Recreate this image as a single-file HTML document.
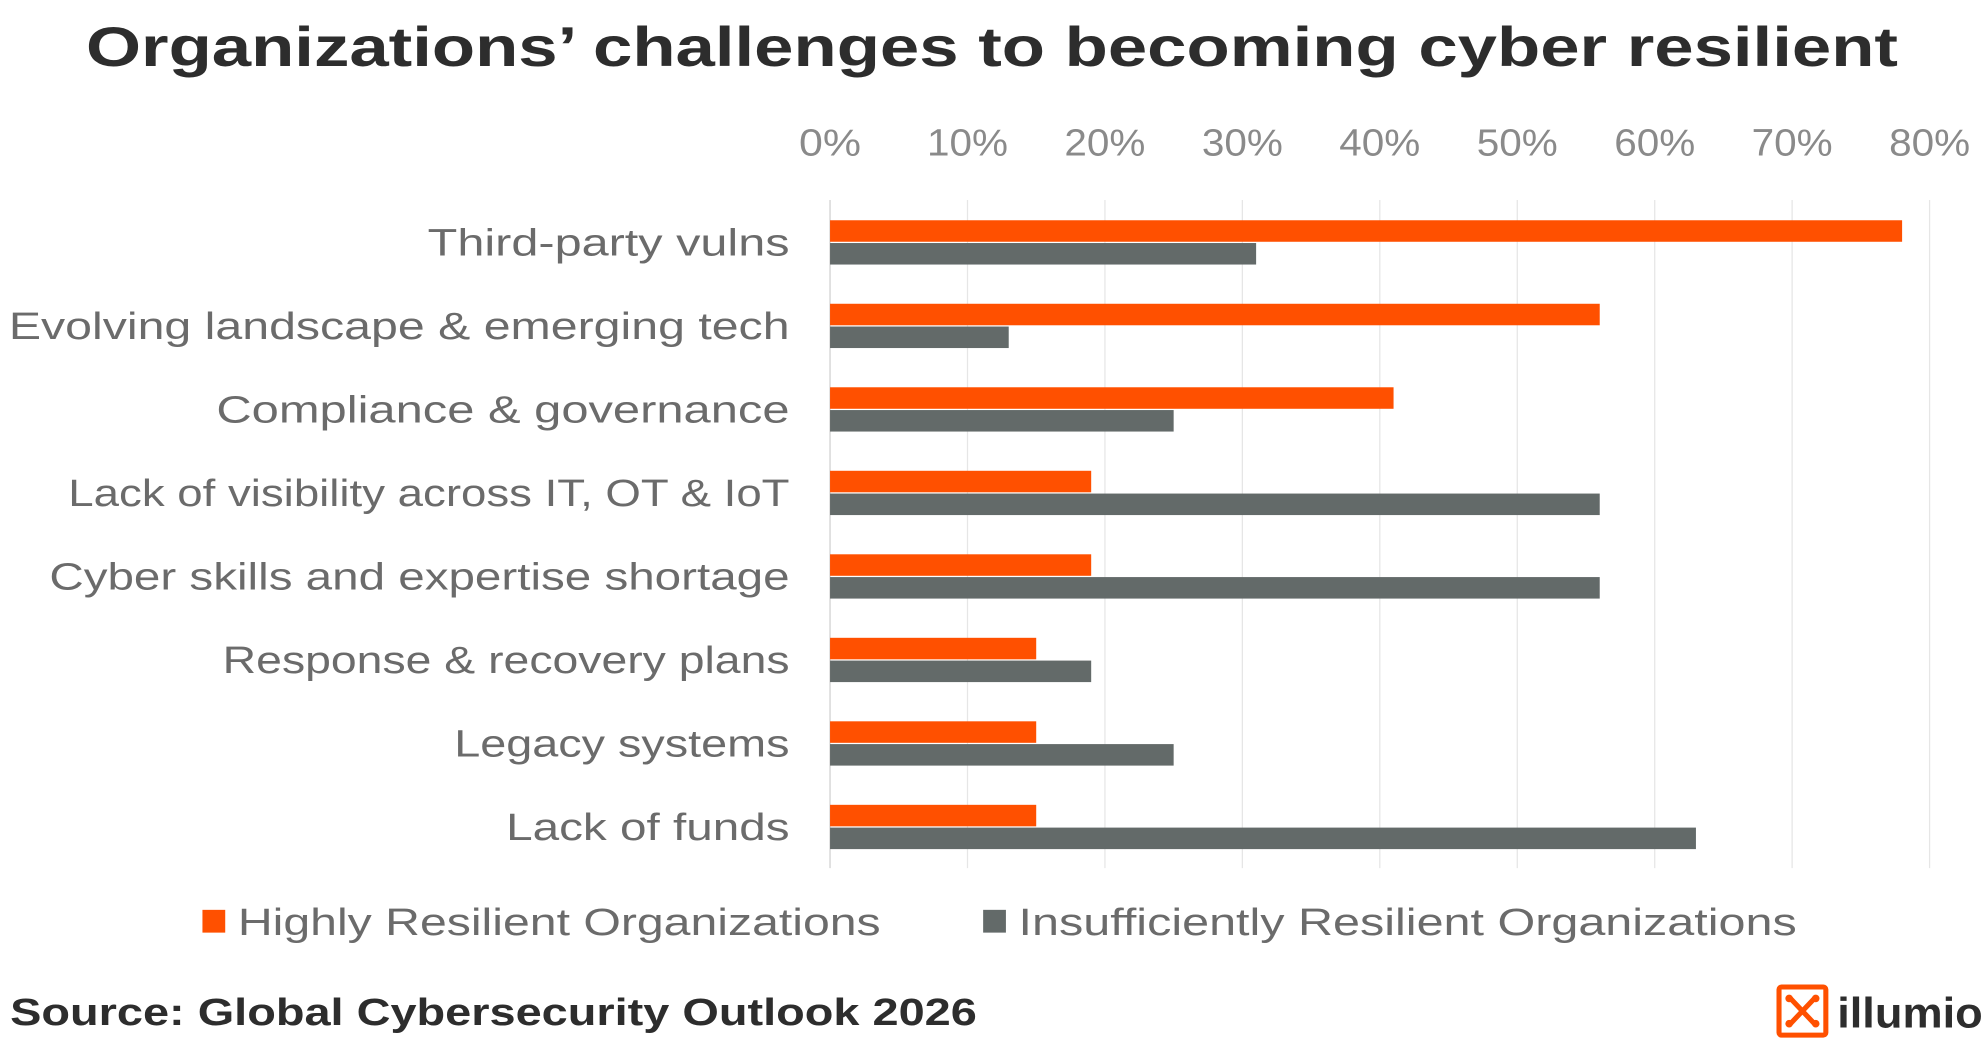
<!DOCTYPE html>
<html><head><meta charset="utf-8"><style>
html,body{margin:0;padding:0;background:#fff}
svg{display:block}
text{font-family:"Liberation Sans",sans-serif}
</style></head><body>
<svg id="chart" width="1984" height="1039" viewBox="0 0 1568 821" xmlns="http://www.w3.org/2000/svg">
<text x="68" y="52" font-size="44" font-weight="bold" fill="#2d2d2d" textLength="1432" lengthAdjust="spacingAndGlyphs">Organizations’ challenges to becoming cyber resilient</text>
<g id="grid"></g>
<g id="ticks"></g>
<g id="cats"></g>
<g id="bars"></g>
<g>
<rect x="160" y="719" width="18" height="18" fill="#ff5000"/>
<text x="188" y="739" font-size="30" fill="#6b6b6b" textLength="508" lengthAdjust="spacingAndGlyphs">Highly Resilient Organizations</text>
<rect x="777" y="719" width="18" height="18" fill="#636a69"/>
<text x="805" y="739" font-size="30" fill="#6b6b6b" textLength="615" lengthAdjust="spacingAndGlyphs">Insufficiently Resilient Organizations</text>
</g>
<text x="8" y="810" font-size="30" font-weight="bold" fill="#2d2d2d" textLength="764" lengthAdjust="spacingAndGlyphs">Source:  Global Cybersecurity Outlook 2026</text>
<g>
<rect x="1406" y="780" width="37" height="38" rx="2" fill="none" stroke="#ff5000" stroke-width="4"/>
<path d="M1415 789 L1434 809 M1434 789 L1415 809" stroke="#ff5000" stroke-width="4"/>
<circle cx="1414" cy="789" r="3" fill="#ff5000"/><circle cx="1435" cy="789" r="3" fill="#ff5000"/>
<circle cx="1414" cy="809" r="3" fill="#ff5000"/><circle cx="1435" cy="809" r="3" fill="#ff5000"/>
<text x="1452" y="812" font-size="34" font-weight="bold" fill="#2d2d2d" textLength="115" lengthAdjust="spacingAndGlyphs">illumio</text>
</g>
</svg>
<script>
const categories=["Third-party vulns","Evolving landscape & emerging tech","Compliance &  governance","Lack of visibility across IT, OT & IoT","Cyber skills and expertise shortage","Response & recovery plans","Legacy systems","Lack of funds"];
const highly=[78,56,41,19,19,15,15,15];
const insufficient=[31,13,25,56,56,19,25,63];
const tickValues=[0,10,20,30,40,50,60,70,80];
const tickLabels=["0%","10%","20%","30%","40%","50%","60%","70%","80%"];
const catStarts=[338,7,171,54,39,176,359,400];
const NS="http://www.w3.org/2000/svg";
const x0=656,x1=1525,xmax=80;
const xs=v=>x0+(v/xmax)*(x1-x0);
const rowTop=158,rowH=66;
const ys=i=>rowTop+rowH*i+rowH/2;
function mk(tag,attrs,parent){const e=document.createElementNS(NS,tag);for(const k in attrs)e.setAttribute(k,attrs[k]);parent.appendChild(e);return e;}
const grid=document.getElementById('grid'),ticks=document.getElementById('ticks'),cats=document.getElementById('cats'),bars=document.getElementById('bars');
tickValues.forEach((v,i)=>{
  const l=mk('line',{x1:xs(v),x2:xs(v),y1:158,y2:686,stroke:i==0?'#d0d0d0':'#e6e6e6','stroke-width':1},grid);
  
  
  const w=tickLabels[i].length==2?49:64;
  const t=mk('text',{x:xs(v)-w/2,y:123,'font-size':30,fill:'#8a8a8a',textLength:w,lengthAdjust:'spacingAndGlyphs'},ticks);
  t.textContent=tickLabels[i];
  
  
});
categories.forEach((c,i)=>{
  const cy=ys(i);
  const t=mk('text',{x:catStarts[i],y:cy+11,'font-size':30,fill:'#6b6b6b',textLength:624-catStarts[i],lengthAdjust:'spacingAndGlyphs'},cats);
  t.textContent=c;
  
  
  const b1=mk('rect',{x:x0,y:cy-17,width:xs(highly[i])-x0,height:17,fill:'#ff5000'},bars);
  
  
  const b2=mk('rect',{x:x0,y:cy+1,width:xs(insufficient[i])-x0,height:17,fill:'#636a69'},bars);
  
  
});
</script>
</body></html>
